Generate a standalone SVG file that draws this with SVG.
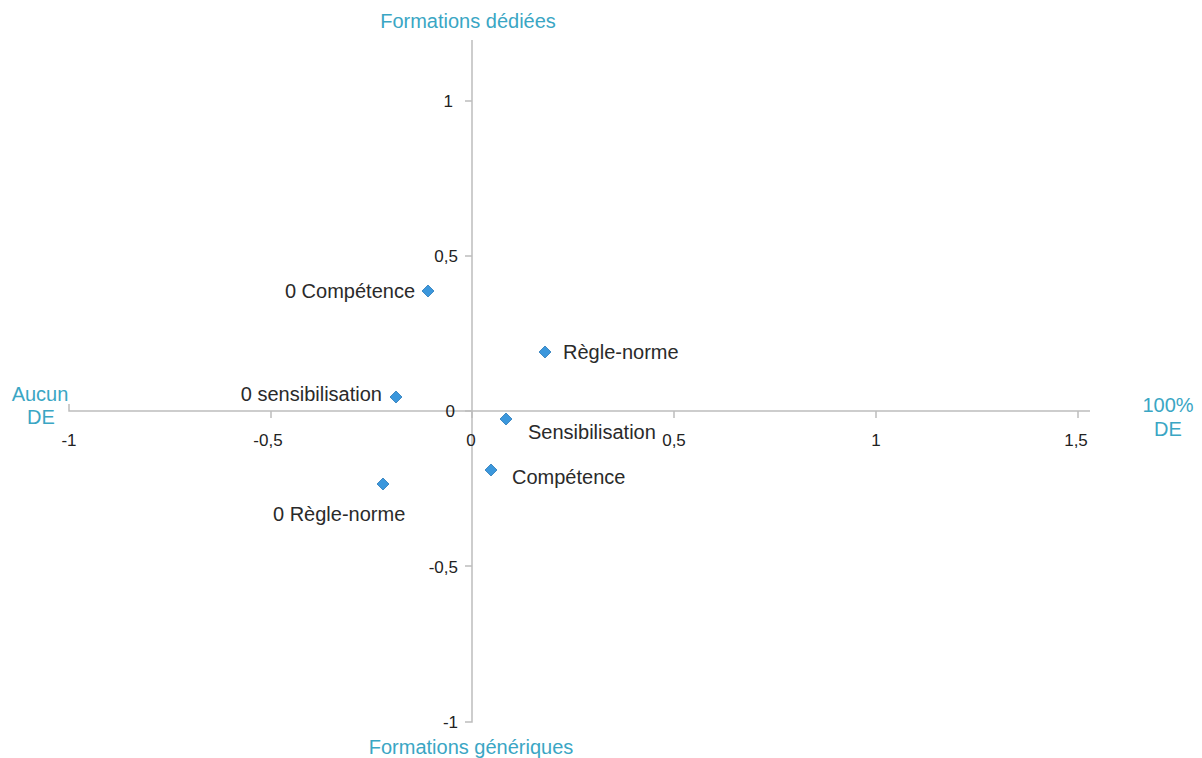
<svg xmlns="http://www.w3.org/2000/svg" width="1202" height="758" viewBox="0 0 1202 758">
<defs>
<style>
.ax{stroke:#bdbdbd;stroke-width:1.5;fill:none}
.tk{font-family:"Liberation Sans",Arial,sans-serif;font-size:17px;fill:#222}
.lb{font-family:"Liberation Sans",Arial,sans-serif;font-size:20px;fill:#2a2a2a}
.ti{font-family:"Liberation Sans",Arial,sans-serif;font-size:20px;fill:#3aa6c4}
.pt{fill:#3b97dc;stroke:#2a78b8;stroke-width:0.8}
</style>
<polygon id="dia" points="0,-6 6,0 0,6 -6,0"/>
</defs>
<rect width="1202" height="758" fill="#fff"/>
<g id="axes">
<path class="ax" d="M69,404 V411 H1090"/>
<path class="ax" d="M472,40 V722 H465"/>
<path class="ax" d="M465,101 H472 M465,256 H472 M465,411 H472 M465,566 H472"/>
<path class="ax" d="M271,411 V418 M472,411 V418 M674,411 V418 M876,411 V418 M1078,411 V418"/>
</g>
<g id="ticks">
<text class="tk" x="453" y="107" text-anchor="end">1</text>
<text class="tk" x="458" y="262" text-anchor="end">0,5</text>
<text class="tk" x="455" y="417" text-anchor="end">0</text>
<text class="tk" x="458" y="573" text-anchor="end">-0,5</text>
<text class="tk" x="458" y="728" text-anchor="end">-1</text>
<text class="tk" x="69" y="446" text-anchor="middle">-1</text>
<text class="tk" x="268" y="446" text-anchor="middle">-0,5</text>
<text class="tk" x="471" y="446" text-anchor="middle">0</text>
<text class="tk" x="674" y="446" text-anchor="middle">0,5</text>
<text class="tk" x="876" y="446" text-anchor="middle">1</text>
<text class="tk" x="1076" y="446" text-anchor="middle">1,5</text>
</g>
<g id="titles">
<text class="ti" x="468" y="28" text-anchor="middle">Formations dédiées</text>
<text class="ti" x="471" y="754" text-anchor="middle">Formations génériques</text>
<text class="ti" x="40" y="401" text-anchor="middle">Aucun</text>
<text class="ti" x="41" y="424" text-anchor="middle">DE</text>
<text class="ti" x="1168" y="412" text-anchor="middle">100%</text>
<text class="ti" x="1168" y="436" text-anchor="middle">DE</text>
</g>
<g id="p-0competence"><use href="#dia" class="pt" x="428" y="291"/><text class="lb" x="415" y="298" text-anchor="end">0 Compétence</text></g>
<g id="p-reglenorme"><use href="#dia" class="pt" x="545" y="352"/><text class="lb" x="563" y="359">Règle-norme</text></g>
<g id="p-0sensibilisation"><use href="#dia" class="pt" x="396" y="397"/><text class="lb" x="382" y="401" text-anchor="end">0 sensibilisation</text></g>
<g id="p-sensibilisation"><use href="#dia" class="pt" x="506" y="419"/><text class="lb" x="528" y="439">Sensibilisation</text></g>
<g id="p-competence"><use href="#dia" class="pt" x="491" y="470"/><text class="lb" x="512" y="484">Compétence</text></g>
<g id="p-0reglenorme"><use href="#dia" class="pt" x="383" y="484"/><text class="lb" x="273" y="521">0 Règle-norme</text></g>
<g id="connectors"></g>
</svg>
